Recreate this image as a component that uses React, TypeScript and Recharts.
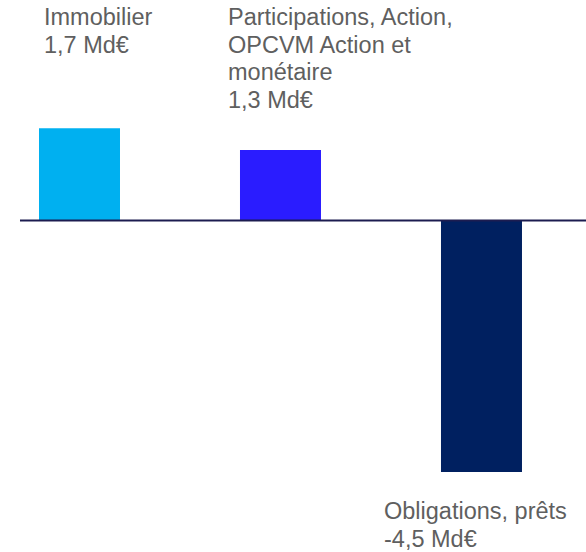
import { BarChart, Bar, XAxis, YAxis, Cell, LabelList, ReferenceLine } from 'recharts'

// values in Md€ (bar heights, labels rounded)
const categories = ['Immobilier', 'Participations, Action, OPCVM Action et monétaire', 'Obligations, prêts']
const values = [1.66, 1.27, -4.53]
const labelLines = [
  ['Immobilier', '1,7 Md€'],
  ['Participations, Action,', 'OPCVM Action et', 'monétaire', '1,3 Md€'],
  ['Obligations, prêts', '-4,5 Md€'],
]
const colors = ['#00B0F0', '#2A1CFF', '#002060']

// label boxes are offset from their bar like free text boxes
const labelDx = [5, -12, -57]
const LINE_H = 27.5

const data = categories.map((name, idx) => ({
  name,
  pos: idx,
  value: values[idx],
}))

function BarLabel(props: any) {
  const { x, y, height, index } = props
  const lines = labelLines[index]
  const bottom = Math.max(y, y + height)
  const isNeg = values[index] < 0
  const startY = isNeg ? bottom + 47.5 : 25
  return (
    <text
      x={x + labelDx[index]}
      y={startY}
      fill="#5f5f5f"
      fontSize={23.5}
      fontFamily="'Liberation Sans', Arial, sans-serif"
    >
      {lines.map((line, i) => (
        <tspan key={i} x={x + labelDx[index]} dy={i === 0 ? 0 : LINE_H}>
          {line}
        </tspan>
      ))}
    </text>
  )
}

export default function App() {
  return (
    <div style={{ position: 'absolute', left: 0, top: 0, width: 586, height: 552, background: '#fff' }}>
      <BarChart width={586} height={552} data={data} margin={{ top: 0, right: 0, bottom: 0, left: 0 }}>
        <XAxis dataKey="pos" type="number" domain={[-0.3955, 2.52]} hide />
        <YAxis type="number" domain={[-5.973, 3.973]} allowDataOverflow hide />
        <Bar dataKey="value" barSize={81} isAnimationActive={false}>
          {data.map((d, idx) => (
            <Cell key={d.name} fill={colors[idx]} />
          ))}
          <LabelList dataKey="value" content={BarLabel} />
        </Bar>
        <ReferenceLine
          segment={[{ x: -0.296, y: 0 }, { x: 2.52, y: 0 }]}
          stroke="#1c1c50"
          strokeWidth={2}
          ifOverflow="visible"
        />
      </BarChart>
    </div>
  )
}
